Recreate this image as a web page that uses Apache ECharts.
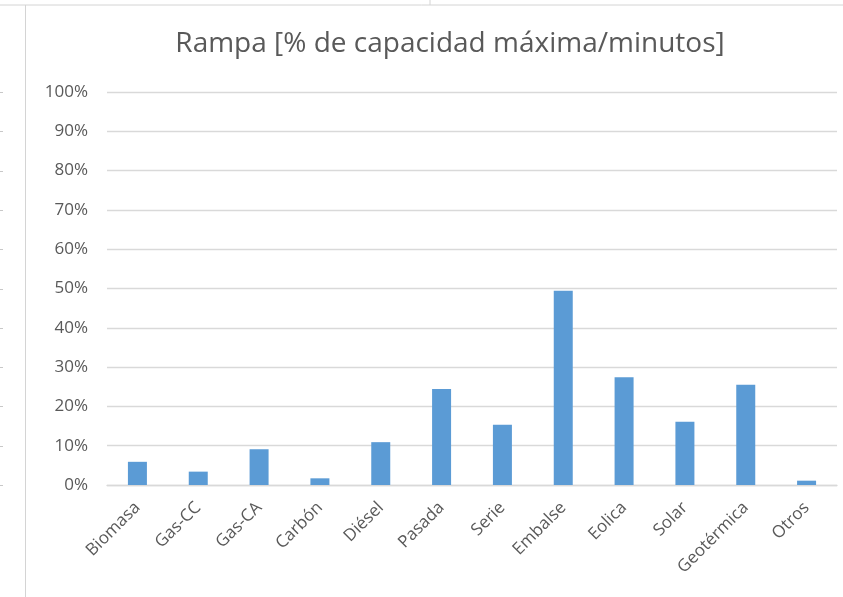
<!DOCTYPE html>
<html>
<head>
<meta charset="utf-8">
<script src="https://cdn.jsdelivr.net/npm/echarts@6/dist/echarts.min.js"></script>
<style>
  html, body { margin: 0; padding: 0; background: #ffffff; }
  #chart { width: 843px; height: 597px; }
</style>
</head>
<body>
<div id="chart"></div>
<script>
// Ramp rate per generation technology, as % of max capacity per minute
const categories = ['Biomasa', 'Gas-CC', 'Gas-CA', 'Carbón', 'Diésel', 'Pasada', 'Serie', 'Embalse', 'Eolica', 'Solar', 'Geotérmica', 'Otros'];
const rampValues = [5.9, 3.4, 9.1, 1.7, 10.9, 24.4, 15.3, 49.4, 27.4, 16.1, 25.5, 1.1];
const yTicks = [0, 10, 20, 30, 40, 50, 60, 70, 80, 90, 100];

const chart = echarts.init(document.getElementById('chart'));
const textColor = '#595959';
const gridColor = '#d9d9d9';
const fontFamily = '"Open Sans", "Noto Sans", sans-serif';

// Spreadsheet frame around the chart object
const frame = [
  { type: 'line', shape: { x1: 0, y1: 5, x2: 843, y2: 5 }, style: { stroke: '#d4d4d4', lineWidth: 1 } },
  { type: 'line', shape: { x1: 430, y1: 0, x2: 430, y2: 5 }, style: { stroke: '#d4d4d4', lineWidth: 1 } },
  { type: 'line', shape: { x1: 25.5, y1: 5, x2: 25.5, y2: 597 }, style: { stroke: '#d4d4d4', lineWidth: 1 } }
];
yTicks.forEach(function (t) {
  const y = Math.round(485 - t * 3.93) + 0.5;
  frame.push({ type: 'line', shape: { x1: 0, y1: y, x2: 3, y2: y }, style: { stroke: '#c8c8c8', lineWidth: 1 } });
});

chart.setOption({
  backgroundColor: '#ffffff',
  animation: false,
  title: {
    text: 'Rampa [% de capacidad máxima/minutos]',
    left: 445,
    textAlign: 'center',
    top: 25,
    textStyle: { color: textColor, fontSize: 28, fontWeight: 'normal', fontFamily: fontFamily }
  },
  graphic: frame,
  grid: { left: 107, right: 6, top: 92, bottom: 112, containLabel: false },
  xAxis: {
    type: 'category',
    data: categories,
    axisLine: { show: true, lineStyle: { color: gridColor, width: 1.3 } },
    axisTick: { show: false },
    axisLabel: { rotate: 45, color: textColor, fontSize: 17, fontFamily: fontFamily, margin: 20, interval: 0 }
  },
  yAxis: {
    type: 'value',
    min: 0,
    max: 100,
    interval: 10,
    axisLine: { show: false },
    axisTick: { show: false },
    axisLabel: { color: textColor, fontSize: 17, fontFamily: fontFamily, margin: 19, formatter: '{value}%' },
    splitLine: { lineStyle: { color: gridColor, width: 1.3 } }
  },
  series: [{
    type: 'bar',
    data: rampValues,
    barWidth: 19,
    itemStyle: { color: '#5b9bd5' }
  }]
});
</script>
</body>
</html>
